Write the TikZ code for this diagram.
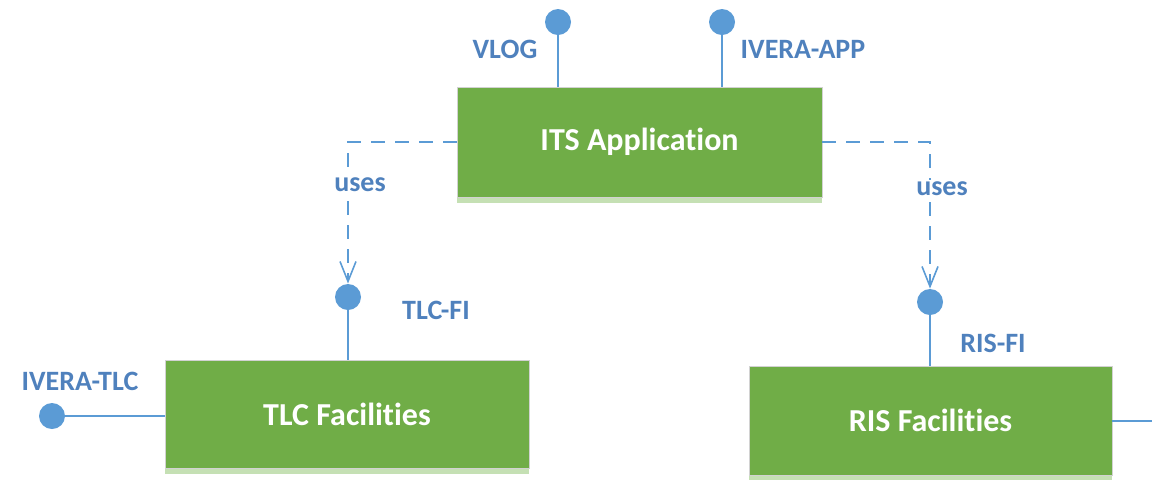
\documentclass[tikz,border=0pt]{standalone}
\usepackage{fontspec}
\setmainfont[Ligatures={NoCommon,NoContextual},Contextuals=NoAlternate]{Carlito}
\usetikzlibrary{arrows.meta}
\definecolor{boxgreen}{RGB}{112,173,71}
\definecolor{lightgreen}{RGB}{197,224,180}
\definecolor{portblue}{RGB}{91,155,213}
\definecolor{labelblue}{RGB}{79,129,189}
\begin{document}
\begin{tikzpicture}[x=0.5pt,y=-0.5pt]

      \useasboundingbox (0,0) rectangle (1152,479);

      \begin{scope}[every node/.style={draw=gray!35,fill=boxgreen,text=white,font=\fontsize{16}{19}\selectfont\bfseries,
          preaction={fill=lightgreen,transform canvas={yshift=-3pt}}}]
        \node[minimum width=182.5pt,minimum height=55pt] (its) at (639.5,142) {ITS Application};
        \node[minimum width=182pt,minimum height=54pt]   (tlc) at (347,414)   {TLC Facilities};
        \node[minimum width=181.5pt,minimum height=54.5pt] (ris) at (930.5,420.5) {RIS Facilities};
      \end{scope}

      \begin{scope}[every node/.style={circle,fill=portblue,minimum size=13pt,inner sep=0pt}]
        \node (vlog)     at (558,22)  {};
        \node (iveraapp) at (722,22)  {};
        \node (tlcfi)    at (348,297) {};
        \node (risfi)    at (930,302) {};
        \node (iveratlc) at (52,416)  {};
      \end{scope}

      \begin{scope}[every node/.style={text=labelblue,font=\fontsize{14}{17}\selectfont\bfseries}]
        \node (vloglabel)     at (505,49)  {VLOG};
        \node (iveraapplabel) at (803,49)  {IVERA-APP};
        \node (tlcfilabel)    at (436,310) {TLC-FI};
        \node (risfilabel)    at (993,343) {RIS-FI};
        \node (iveratlclabel) at (80,381)  {IVERA-TLC};
      \end{scope}

      \coordinate (risout) at (1152,421);

      \begin{scope}[every path/.style={draw=portblue,line width=1pt}]
        \path (vlog)     edge (vlog |- its.north);
        \path (iveraapp) edge (iveraapp |- its.north);
        \path (tlcfi)    edge (tlcfi |- tlc.north);
        \path (risfi)    edge (risfi |- ris.north);
        \path (iveratlc) edge (iveratlc -| tlc.west);
        \path (ris.east |- risout) edge (risout);
      \end{scope}

      \begin{scope}[every node/.style={fill=white,text=labelblue,font=\fontsize{14}{17}\selectfont\bfseries,inner sep=1pt,xshift=6pt,yshift=-1.5pt}]
        \draw[portblue,line width=0.8pt,dash pattern=on 7pt off 5pt,-{Straight Barb[length=10pt,width=8pt]}]
          (its.west) -| node[pos=0.64] {uses} (tlcfi.north);
        \draw[portblue,line width=0.8pt,dash pattern=on 7pt off 5pt,-{Straight Barb[length=10pt,width=8pt]}]
          (its.east) -| node[pos=0.65] {uses} (risfi.north);
      \end{scope}

    \end{tikzpicture}
\end{document}
